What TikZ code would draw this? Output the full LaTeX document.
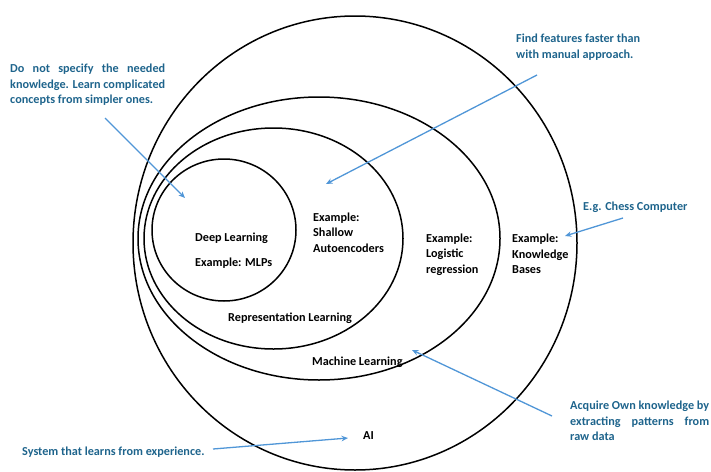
\documentclass[tikz,border=0pt]{standalone}
\usepackage{fontspec}
\setmainfont{Carlito}
\usetikzlibrary{shapes.geometric,arrows.meta}

\definecolor{notecol}{RGB}{30,100,140}
\definecolor{ptrcol}{RGB}{80,150,215}

\tikzset{
  ring/.style={draw, ellipse, line width=1.5pt, inner sep=0pt},
  lbl/.style={anchor=west, align=left, inner sep=0pt, font=\bfseries\fontsize{12.2}{15.5}\selectfont},
  note/.style={lbl, text=notecol},
  ptr/.style={draw=ptrcol, line width=1.3pt, -{Stealth[length=6.5pt,width=5.5pt]}}
}

\begin{document}
\begin{tikzpicture}[x=1pt, y=-1pt]
\useasboundingbox (0,0) rectangle (711,471);

% nested fields
\node[ring, minimum width=444pt, minimum height=454pt] (ai) at (355,243) {};
\node[ring, minimum width=362pt, minimum height=283pt] (ml) at (319,238.5) {};
\node[ring, minimum width=259pt, minimum height=221pt] (rl) at (273.5,238.5) {};
\node[ring, minimum width=144pt, minimum height=142pt] (dl) at (224,230) {};

% labels inside
\node[lbl] (dlname) at (195,238) {Deep Learning};
\node[lbl] (dlex) at (195,263) {Example: MLPs};
\node[lbl] (rlex) at (313,232.5) {Example:\\Shallow\\Autoencoders};
\node[lbl] (rlname) at (228,318) {Representation Learning};
\node[lbl] (mlex) at (426,254.5) {Example:\\Logistic\\regression};
\node[lbl] (mlname) at (312,362) {Machine Learning};
\node[lbl] (aiex) at (512,254) {Example:\\Knowledge\\Bases};
\node[lbl] (ainame) at (363,436) {AI};

% notes
\node[note, text width=155pt, align=justify] (dlnote) at (10,85)
  {Do not specify the needed\linebreak knowledge. Learn complicated\linebreak concepts from simpler ones.};
\node[note] (rlnote) at (516,47) {Find features faster than\\with manual approach.};
\node[note] (ainote) at (583,207) {E.g. Chess Computer};
\node[note, text width=139pt, align=justify] (mlnote) at (570,421)
  {Acquire Own knowledge by\linebreak extracting patterns from\linebreak raw data};
\node[note] (sysnote) at (22,452) {System that learns from experience.};

% pointers
\coordinate (p1a) at (105,118);
\coordinate (p1b) at (185,198);
\coordinate (p2a) at (537,75);
\coordinate (p2b) at (326,184);
\coordinate (p3a) at (623,218);
\coordinate (p3b) at (565,236);
\coordinate (p4a) at (552,416);
\coordinate (p4b) at (412,350);
\coordinate (p5a) at (213,449);
\coordinate (p5b) at (348,438);

\draw[ptr] (p1a) -- (p1b);
\draw[ptr] (p2a) -- (p2b);
\draw[ptr] (p3a) -- (p3b);
\draw[ptr] (p4a) -- (p4b);
\draw[ptr] (p5a) -- (p5b);

\end{tikzpicture}
\end{document}
